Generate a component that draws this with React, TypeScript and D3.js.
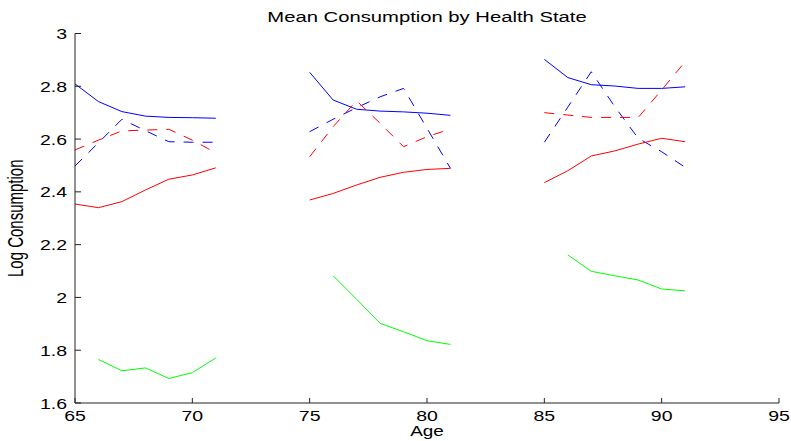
import React from 'react';
import * as d3 from 'd3';

// ages of each cohort window
const ageGroups = [
  [65, 66, 67, 68, 69, 70, 71],
  [75, 76, 77, 78, 79, 80, 81],
  [85, 86, 87, 88, 89, 90, 91],
];

const blueSolid = [
  [2.809, 2.742, 2.704, 2.687, 2.682, 2.681, 2.679],
  [2.853, 2.748, 2.713, 2.706, 2.703, 2.698, 2.690],
  [2.902, 2.833, 2.806, 2.801, 2.792, 2.792, 2.798],
];
const blueDashed = [
  [2.498, 2.586, 2.675, 2.632, 2.590, 2.588, 2.588],
  [2.628, 2.675, 2.719, 2.760, 2.792, 2.641, 2.489],
  [2.588, 2.721, 2.855, 2.723, 2.603, 2.552, 2.493],
];
const redDashed = [
  [2.559, 2.596, 2.631, 2.634, 2.637, 2.596, 2.548],
  [2.533, 2.647, 2.745, 2.660, 2.571, 2.609, 2.638],
  [2.700, 2.691, 2.682, 2.682, 2.682, 2.786, 2.893],
];
const redSolid = [
  [2.354, 2.340, 2.363, 2.407, 2.448, 2.464, 2.491],
  [2.369, 2.394, 2.426, 2.455, 2.474, 2.485, 2.489],
  [2.435, 2.480, 2.536, 2.555, 2.581, 2.603, 2.590],
];
const greenSolid = [
  [null, 1.765, 1.722, 1.733, 1.693, 1.715, 1.771],
  [null, 2.082, 1.993, 1.902, 1.870, 1.836, 1.822],
  [null, 2.161, 2.099, 2.082, 2.066, 2.032, 2.025],
];

const xTicks = [65, 70, 75, 80, 85, 90, 95];
const yTicks = [1.6, 1.8, 2, 2.2, 2.4, 2.6, 2.8, 3];

const series = [
  { values: blueSolid, color: '#0000ff', dash: null },
  { values: blueDashed, color: '#0000ff', dash: '10,9' },
  { values: redDashed, color: '#ff0000', dash: '10,9' },
  { values: redSolid, color: '#ff0000', dash: null },
  { values: greenSolid, color: '#00ff00', dash: null },
];

export default function App() {
  const width = 791;
  const height = 441;
  const left = 75, right = 779, top = 33.5, bottom = 403;

  const x = d3.scaleLinear().domain([65, 95]).range([left, right]);
  const y = d3.scaleLinear().domain([1.6, 3]).range([bottom, top]);

  const line = d3.line<[number, number | null]>()
    .defined(d => d[1] != null)
    .x(d => x(d[0]))
    .y(d => y(d[1] as number));

  const font = 'Liberation Sans, Arial, Helvetica, sans-serif';
  const axisColor = '#222';

  return (
    <svg width={width} height={height} style={{ position: 'absolute', left: 0, top: 0, background: '#fff' }}>
      <text transform={`translate(${(left + right) / 2},22) scale(1.35,1)`} textAnchor="middle"
        fontFamily={font} fontSize={15} fill="#000">Mean Consumption by Health State</text>

      {series.map((s, si) =>
        s.values.map((vals, gi) => (
          <path key={`${si}-${gi}`}
            d={line(ageGroups[gi].map((a, i) => [a, vals[i]] as [number, number | null])) || ''}
            fill="none" stroke={s.color} strokeWidth={1}
            strokeDasharray={s.dash || undefined} />
        ))
      )}

      <line x1={left} x2={left} y1={top} y2={bottom} stroke={axisColor} />
      <line x1={left} x2={right} y1={bottom} y2={bottom} stroke={axisColor} />

      {yTicks.map(t => (
        <g key={'y' + t}>
          <line x1={left} x2={left + 6} y1={y(t)} y2={y(t)} stroke={axisColor} />
          <text transform={`translate(${left - 8},${y(t) + 5.5}) scale(1.3,1)`} textAnchor="end"
            fontFamily={font} fontSize={15} fill="#000">{d3.format('~g')(t)}</text>
        </g>
      ))}
      {xTicks.map(t => (
        <g key={'x' + t}>
          <line x1={x(t)} x2={x(t)} y1={bottom} y2={bottom - 5} stroke={axisColor} />
          <text transform={`translate(${x(t)},${421}) scale(1.3,1)`} textAnchor="middle"
            fontFamily={font} fontSize={15} fill="#000">{t}</text>
        </g>
      ))}

      <text transform={`translate(${(left + right) / 2},436) scale(1.35,1)`} textAnchor="middle"
        fontFamily={font} fontSize={14} fill="#000">Age</text>
      <text transform={`translate(23,${(top + bottom) / 2}) scale(1.5,1) rotate(-90)`} textAnchor="middle"
        fontFamily={font} fontSize={15} fill="#000">Log Consumption</text>
    </svg>
  );
}
